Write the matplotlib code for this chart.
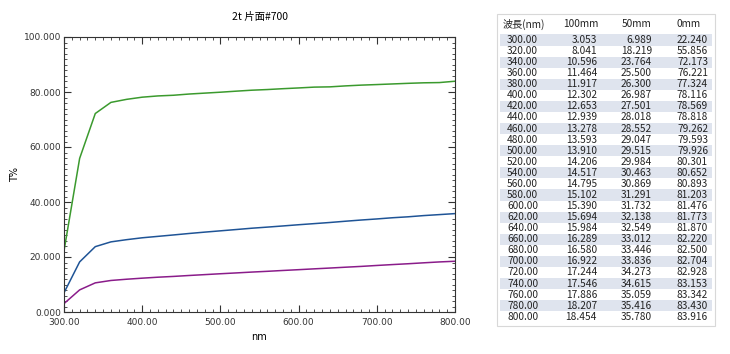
import matplotlib
matplotlib.use("Agg")
import matplotlib.pyplot as plt
from matplotlib.patches import Rectangle
from matplotlib.ticker import MultipleLocator, FormatStrFormatter

plt.rcParams['font.family'] = ['Noto Sans CJK JP', 'DejaVu Sans']

# data (from the table in the reference)
wavelength = [300, 320, 340, 360, 380, 400, 420, 440, 460, 480, 500, 520, 540,
              560, 580, 600, 620, 640, 660, 680, 700, 720, 740, 760, 780, 800]
t_100mm = [3.053, 8.041, 10.596, 11.464, 11.917, 12.302, 12.653, 12.939, 13.278,
           13.593, 13.910, 14.206, 14.517, 14.795, 15.102, 15.390, 15.694, 15.984,
           16.289, 16.580, 16.922, 17.244, 17.546, 17.886, 18.207, 18.454]
t_50mm = [6.989, 18.219, 23.764, 25.500, 26.300, 26.987, 27.501, 28.018, 28.552,
          29.047, 29.515, 29.984, 30.463, 30.869, 31.291, 31.732, 32.138, 32.549,
          33.012, 33.446, 33.836, 34.273, 34.615, 35.059, 35.416, 35.780]
t_0mm = [22.240, 55.856, 72.173, 76.221, 77.324, 78.116, 78.569, 78.818, 79.262,
         79.593, 79.926, 80.301, 80.652, 80.893, 81.203, 81.476, 81.773, 81.870,
         82.220, 82.500, 82.704, 82.928, 83.153, 83.342, 83.430, 83.916]
col_headers = ["波長(nm)", "100mm", "50mm", "0mm"]

W, H = 730, 354
fig = plt.figure(figsize=(W / 100, H / 100), dpi=100)

def fx(px):
    return px / W

def fy(py):
    return 1 - py / H

ax = fig.add_axes([fx(64), fy(312), fx(455) - fx(64), fy(37) - fy(312)])
ax.plot(wavelength, t_0mm, color="#3b9a2e", lw=1.1)
ax.plot(wavelength, t_50mm, color="#1f5496", lw=1.1)
ax.plot(wavelength, t_100mm, color="#8a1c8a", lw=1.1)

ax.set_xlim(300, 800)
ax.set_ylim(0, 100)
ax.xaxis.set_major_locator(MultipleLocator(100))
ax.xaxis.set_minor_locator(MultipleLocator(10))
ax.yaxis.set_major_locator(MultipleLocator(20))
ax.yaxis.set_minor_locator(MultipleLocator(2))
ax.xaxis.set_major_formatter(FormatStrFormatter("%.2f"))
ax.yaxis.set_major_formatter(FormatStrFormatter("%.3f"))
ax.tick_params(which="both", direction="in", top=True, right=True,
               labelsize=6.5, colors="#333333")
ax.tick_params(axis="x", pad=4)
ax.tick_params(axis="y", pad=2)
ax.tick_params(which="major", length=5, width=0.8)
ax.tick_params(which="minor", length=2.5, width=0.6)
for s in ax.spines.values():
    s.set_linewidth(0.8)
    s.set_color("#333333")
for lab in ax.get_xticklabels() + ax.get_yticklabels():
    lab.set_family("DejaVu Sans")

ax.set_xlabel("nm", fontsize=7, family="DejaVu Sans", labelpad=4)
ax.set_ylabel("T%", fontsize=7, family="DejaVu Sans", labelpad=3)
ax.set_title("2t 片面#700", fontsize=7.5, pad=12)

# table on the right
fig.patches.append(Rectangle((fx(497), fy(326)), fx(715) - fx(497), fy(14) - fy(326),
                             transform=fig.transFigure, fill=False,
                             edgecolor="#d8d8d8", lw=0.8))
row0, dy = 40.0, 11.07
fs = 7.3
fig.text(fx(503), fy(24), col_headers[0], fontsize=fs, va="center", ha="left", color="#222222")
fig.text(fx(581), fy(24), col_headers[1], fontsize=fs, va="center", ha="center", color="#222222")
fig.text(fx(637), fy(24), col_headers[2], fontsize=fs, va="center", ha="center", color="#222222")
fig.text(fx(689), fy(24), col_headers[3], fontsize=fs, va="center", ha="center", color="#222222")
for i, w in enumerate(wavelength):
    yc = row0 + dy * i
    if i % 2 == 0:
        fig.patches.append(Rectangle((fx(500), fy(yc + dy / 2)), fx(712) - fx(500), dy / H,
                                     transform=fig.transFigure, facecolor="#dfe4ee",
                                     edgecolor="none"))
    fig.text(fx(507), fy(yc), f"{w:.2f}", fontsize=fs, va="center", ha="left", color="#222222")
    fig.text(fx(597), fy(yc), f"{t_100mm[i]:.3f}", fontsize=fs, va="center", ha="right", color="#222222")
    fig.text(fx(652), fy(yc), f"{t_50mm[i]:.3f}", fontsize=fs, va="center", ha="right", color="#222222")
    fig.text(fx(708), fy(yc), f"{t_0mm[i]:.3f}", fontsize=fs, va="center", ha="right", color="#222222")

fig.savefig("out.png", dpi=100)
